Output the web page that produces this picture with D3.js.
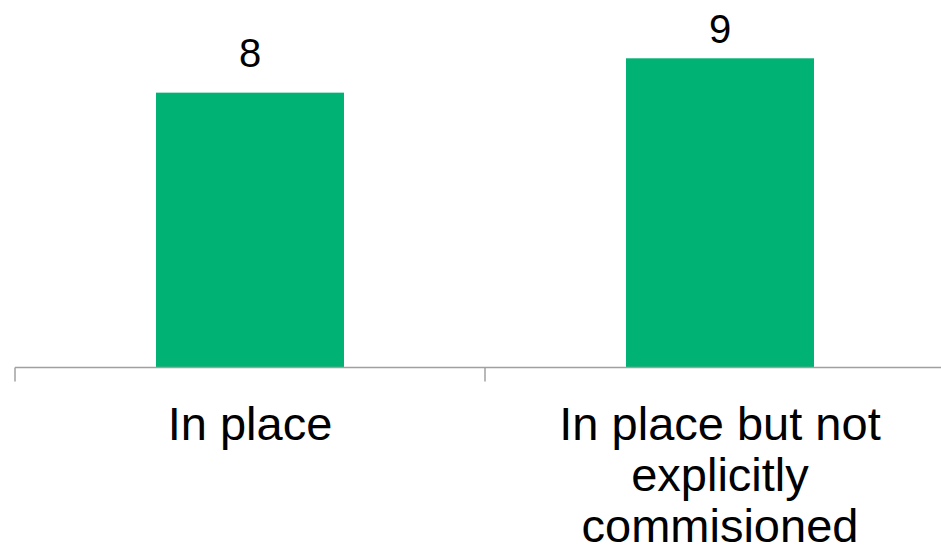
<!DOCTYPE html>
<html>
<head>
<meta charset="utf-8">
<script src="https://cdn.jsdelivr.net/npm/d3@7"></script>
<style>
  html, body { margin: 0; padding: 0; background: #fff; }
  svg { display: block; font-family: "Liberation Sans", Arial, sans-serif; }
</style>
</head>
<body>
<div id="chart"></div>
<script>
// data
const categories = ['In place', 'In place but not explicitly commisioned'];
const categoryLines = [['In place'], ['In place but not', 'explicitly', 'commisioned']];
const values = [8, 9];

const width = 941;
const height = 554;
const baseline = 367.5;

const svg = d3.select('#chart')
  .append('svg')
  .attr('width', width)
  .attr('height', height);

const x = d3.scaleBand()
  .domain(categories)
  .range([15, 955])
  .paddingInner(0.6)
  .paddingOuter(0.3);

const y = d3.scaleLinear()
  .domain([0, 9])
  .range([baseline, 58.3]);

// bars
svg.append('g')
  .selectAll('rect')
  .data(values)
  .join('rect')
  .attr('x', (d, i) => x(categories[i]))
  .attr('y', (d) => y(d))
  .attr('width', x.bandwidth())
  .attr('height', (d) => baseline - y(d))
  .attr('fill', '#00b274');

// value labels
svg.append('g')
  .selectAll('text')
  .data(values)
  .join('text')
  .attr('x', (d, i) => x(categories[i]) + x.bandwidth() / 2)
  .attr('y', (d) => Math.max(y(d) - 26, 43))
  .attr('text-anchor', 'middle')
  .attr('font-size', 40)
  .attr('fill', '#000')
  .text((d) => d);

// axis line + ticks
const axis = svg.append('g')
  .attr('stroke', '#a0a0a0')
  .attr('stroke-width', 1.5);

axis.append('line')
  .attr('x1', 15)
  .attr('x2', width)
  .attr('y1', baseline)
  .attr('y2', baseline);

axis.selectAll('.tick')
  .data(categories)
  .join('line')
  .attr('class', 'tick')
  .attr('x1', (d) => x(d) - x.step() * 0.3)
  .attr('x2', (d) => x(d) - x.step() * 0.3)
  .attr('y1', baseline)
  .attr('y2', 381.5);

// category labels
svg.append('g')
  .selectAll('text')
  .data(categories)
  .join('text')
  .attr('x', (d) => x(d) + x.bandwidth() / 2)
  .attr('y', 439.5)
  .attr('text-anchor', 'middle')
  .attr('font-size', 47)
  .attr('fill', '#000')
  .selectAll('tspan')
  .data((d, i) => categoryLines[i])
  .join('tspan')
  .attr('x', function () { return d3.select(this.parentNode).attr('x'); })
  .attr('dy', (d, i) => (i === 0 ? 0 : 51))
  .text((d) => d);
</script>
</body>
</html>
